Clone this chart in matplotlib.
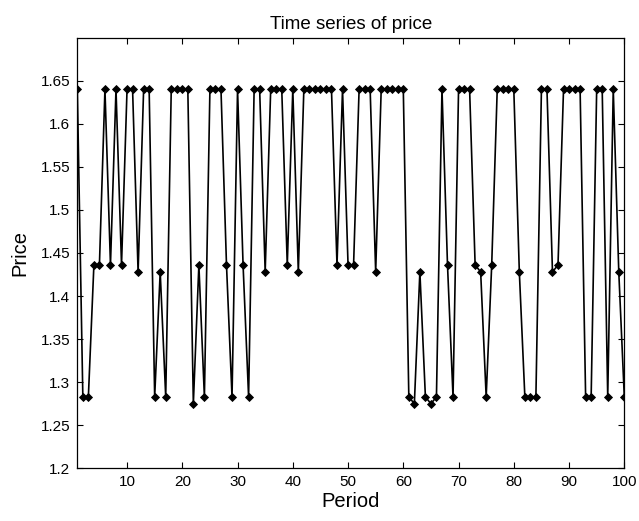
import numpy as np
import matplotlib.pyplot as plt

plt.rcParams['font.family'] = ['Liberation Sans', 'DejaVu Sans']

# price levels seen in the series
HI = 1.64
MID_A = 1.436
MID_B = 1.428
LO_A = 1.283
LO_B = 1.275

period = np.arange(1, 101)
price = [
    HI, LO_A, LO_A, MID_A, MID_A, HI, MID_A, HI, MID_A, HI,
    HI, MID_B, HI, HI, LO_A, MID_B, LO_A, HI, HI, HI,
    HI, LO_B, MID_A, LO_A, HI, HI, HI, MID_A, LO_A, HI,
    MID_A, LO_A, HI, HI, MID_B, HI, HI, HI, MID_A, HI,
    MID_B, HI, HI, HI, HI, HI, HI, MID_A, HI, MID_A,
    MID_A, HI, HI, HI, MID_B, HI, HI, HI, HI, HI,
    LO_A, LO_B, MID_B, LO_A, LO_B, LO_A, HI, MID_A, LO_A, HI,
    HI, HI, MID_A, MID_B, LO_A, MID_A, HI, HI, HI, HI,
    MID_B, LO_A, LO_A, LO_A, HI, HI, MID_B, MID_A, HI, HI,
    HI, HI, LO_A, LO_A, HI, HI, LO_A, HI, MID_B, LO_A,
]

xticks = np.arange(10, 101, 10)
yticks = np.round(np.arange(1.2, 1.651, 0.05), 2)

fig = plt.figure(figsize=(6.39, 5.21), dpi=100)
ax = fig.add_axes([0.121, 0.101, 0.856, 0.827])

ax.plot(period, price, color='black', lw=1.2, marker='D', ms=3.9,
        mfc='black', mec='black', mew=0.6)

ax.set_xlim(1, 100)
ax.set_ylim(1.2, 1.7)
ax.set_xticks(xticks)
ax.set_yticks(yticks)
ax.set_yticklabels([f'{v:g}' for v in yticks])
ax.tick_params(direction='in', length=4.5, width=0.8, top=True, right=True,
               labelsize=11, pad=5)
for s in ax.spines.values():
    s.set_linewidth(0.9)

ax.set_title('Time series of price', fontsize=13.5, pad=6)
ax.set_xlabel('Period', fontsize=14.5, labelpad=2)
ax.set_ylabel('Price', fontsize=14.5, labelpad=8)

fig.savefig('out.png', dpi=100)
